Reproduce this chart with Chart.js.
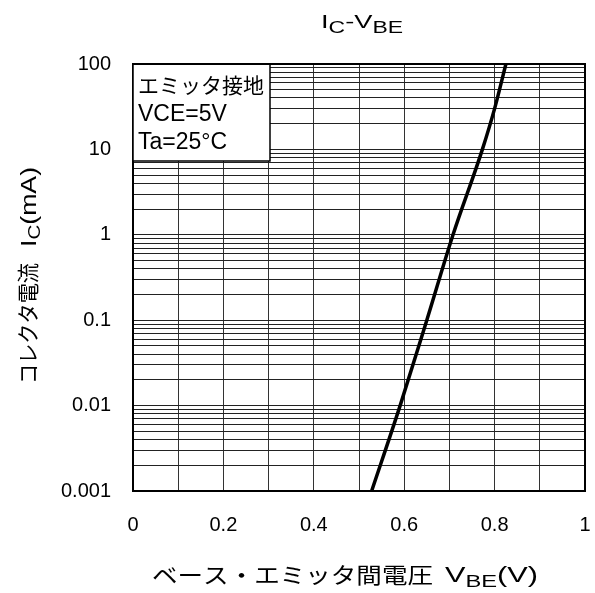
<!DOCTYPE html>
<html>
<head>
<meta charset="utf-8">
<script src="https://cdn.jsdelivr.net/npm/chart.js@4/dist/chart.umd.min.js"></script>
<style>
  html, body { margin: 0; padding: 0; background: #fff; }
  #wrap { width: 595px; height: 593px; }
</style>
</head>
<body>
<div id="wrap"><canvas id="chart" width="595" height="593"></canvas></div>
<script>
// --- Data (Ic vs Vbe, Vce=5V, Ta=25C) ---
const vbe = [0.528, 0.591, 0.650, 0.708, 0.773, 0.800, 0.825];
const icMA = [0.001, 0.01, 0.1, 1, 10, 30, 100];

const xTicks = [0, 0.1, 0.2, 0.3, 0.4, 0.5, 0.6, 0.7, 0.8, 0.9, 1];
const xLabels = ['0', '', '0.2', '', '0.4', '', '0.6', '', '0.8', '', '1'];
const yDecades = [0.001, 0.01, 0.1, 1, 10, 100];
const yLabels = ['0.001', '0.01', '0.1', '1', '10', '100'];

const legendLines = ['エミッタ接地', 'VCE=5V', 'Ta=25°C'];

const LATIN = '"Liberation Sans", Arial, sans-serif';
const JP = '"Noto Sans CJK JP", "Liberation Sans", sans-serif';

// every 1..9 x decade for the minor grid
function logGridTicks() {
  const out = [];
  for (let d = 0; d < yDecades.length; d++) {
    const base = yDecades[d];
    if (d === yDecades.length - 1) { out.push({ value: base }); break; }
    for (let m = 1; m < 10; m++) out.push({ value: +(base * m).toPrecision(3) });
  }
  return out;
}

function runsWidth(ctx, runs) {
  let w = 0;
  runs.forEach(r => { ctx.font = r.font; w += ctx.measureText(r.text).width; });
  return w;
}

// draw text pieces (some subscripted) starting at x, squeezed/stretched to width w
function drawRuns(ctx, runs, x, y, w) {
  const natural = runsWidth(ctx, runs);
  const sx = w ? w / natural : 1;
  ctx.save();
  ctx.translate(x, y);
  ctx.scale(sx, 1);
  ctx.textAlign = 'left';
  ctx.textBaseline = 'alphabetic';
  let cx = 0;
  runs.forEach(r => {
    ctx.font = r.font;
    ctx.fillText(r.text, cx, r.dy || 0);
    cx += ctx.measureText(r.text).width;
  });
  ctx.restore();
}

const textPlugin = {
  id: 'textPlugin',
  afterDatasetsDraw(chart) {
    const ctx = chart.ctx;
    const a = chart.chartArea;
    ctx.save();

    // legend box
    const bx = a.left, by = a.top, bw = 137, bh = 97;
    ctx.fillStyle = '#fff';
    ctx.fillRect(bx, by, bw, bh);
    ctx.strokeStyle = '#000';
    ctx.lineWidth = 1.5;
    ctx.strokeRect(bx, by, bw, bh);
    ctx.fillStyle = '#000';
    ctx.textAlign = 'left';
    ctx.textBaseline = 'alphabetic';
    ctx.font = '21px ' + JP;
    ctx.fillText(legendLines[0], bx + 5, by + 29);
    ctx.font = '23px ' + LATIN;
    ctx.fillText(legendLines[1], bx + 5, by + 57);
    ctx.fillText(legendLines[2], bx + 5, by + 85);

    // title
    const big = '19px ' + LATIN, sub = '16px ' + LATIN;
    drawRuns(ctx, [
      { text: 'I', font: big }, { text: 'C', font: sub, dy: 5 },
      { text: '-V', font: big }, { text: 'BE', font: sub, dy: 5 }
    ], 321, 28, 82);

    // x axis title
    const lat = '22px ' + LATIN, latSub = '17px ' + LATIN;
    drawRuns(ctx, [{ text: 'ベース・エミッタ間電圧', font: '22px ' + JP }], 152, 583, 281);
    drawRuns(ctx, [
      { text: 'V', font: lat }, { text: 'BE', font: latSub, dy: 5 },
      { text: '(V)', font: lat }
    ], 445, 582, 93);

    // y axis title (rotated)
    ctx.translate(36, 0);
    ctx.rotate(-Math.PI / 2);
    drawRuns(ctx, [{ text: 'コレクタ電流', font: '22px ' + JP }], -384, 0, 121);
    drawRuns(ctx, [
      { text: 'I', font: lat }, { text: 'C', font: latSub, dy: 4 },
      { text: '(mA)', font: lat }
    ], -247, 0, 80);
    ctx.restore();
  }
};

new Chart(document.getElementById('chart'), {
  type: 'scatter',
  data: {
    datasets: [{
      data: vbe.map((v, i) => ({ x: v, y: icMA[i] })),
      showLine: true,
      borderColor: '#000',
      borderWidth: 3.5,
      pointRadius: 0,
      tension: 0.3,
      cubicInterpolationMode: 'monotone'
    }]
  },
  options: {
    responsive: false,
    animation: false,
    layout: { padding: { top: 64, right: 10, left: 0, bottom: 0 } },
    plugins: { legend: { display: false }, tooltip: { enabled: false } },
    scales: {
      x: {
        type: 'linear',
        min: 0, max: 1,
        afterBuildTicks: s => { s.ticks = xTicks.map(v => ({ value: v })); },
        afterFit: s => { s.height = 102; s.paddingLeft = 0; s.paddingRight = 0; },
        ticks: {
          autoSkip: false,
          maxRotation: 0,
          padding: 22,
          color: '#000',
          font: { family: LATIN, size: 20 },
          callback: (v, i) => xLabels[i]
        },
        grid: { color: '#333', lineWidth: 1, drawTicks: false },
        border: { display: true, color: '#000', width: 2 }
      },
      y: {
        type: 'logarithmic',
        min: 0.001, max: 100,
        afterBuildTicks: s => { s.ticks = logGridTicks(); },
        afterFit: s => { s.width = 133; s.paddingTop = 0; s.paddingBottom = 0; },
        ticks: {
          autoSkip: false,
          padding: 22,
          color: '#000',
          font: { family: LATIN, size: 20 },
          callback: v => {
            const k = yDecades.findIndex(d => Math.abs(d - v) / d < 1e-6);
            return k >= 0 ? yLabels[k] : '';
          }
        },
        grid: { color: '#222', lineWidth: 1, drawTicks: false },
        border: { display: true, color: '#000', width: 2 }
      }
    }
  },
  plugins: [textPlugin, {
    id: 'frame',
    afterDraw(chart) {
      const a = chart.chartArea, ctx = chart.ctx;
      ctx.save();
      ctx.strokeStyle = '#000';
      ctx.lineWidth = 2;
      ctx.beginPath();
      ctx.moveTo(a.left, a.top); ctx.lineTo(a.right, a.top); ctx.lineTo(a.right, a.bottom);
      ctx.stroke();
      ctx.restore();
    }
  }]
});
</script>
</body>
</html>
